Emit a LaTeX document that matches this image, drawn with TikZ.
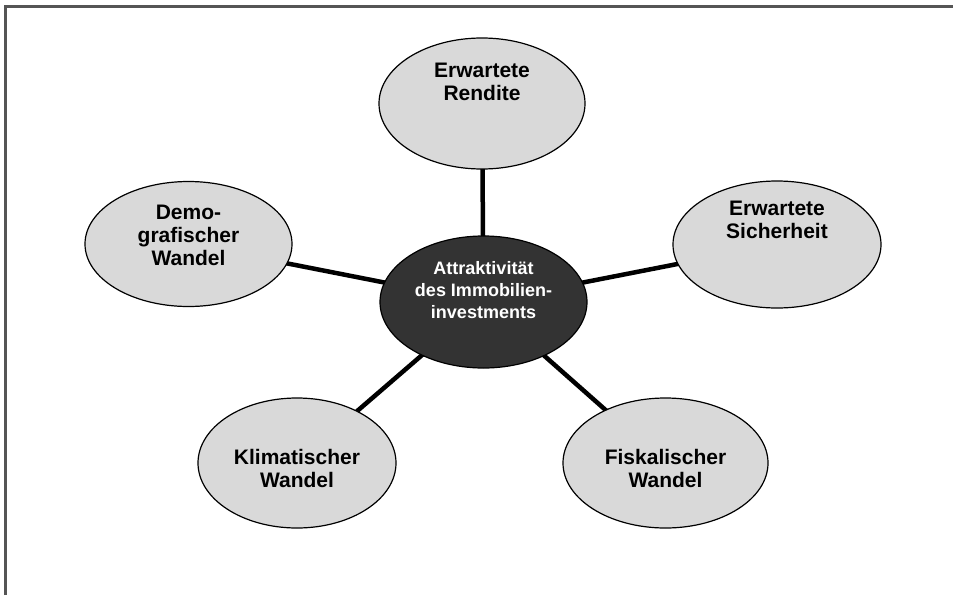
\documentclass[tikz,border=0pt]{standalone}
\usepackage{fontspec}
\setmainfont{Liberation Sans}
\usetikzlibrary{shapes.geometric,backgrounds}
\definecolor{outerfill}{HTML}{D9D9D9}
\definecolor{innerfill}{HTML}{333333}
\definecolor{framecol}{HTML}{555555}
\tikzset{
  outerell/.style={ellipse, draw=black, line width=1.2pt, fill=outerfill, inner sep=0pt},
  innerell/.style={ellipse, draw=black, line width=1.2pt, fill=innerfill, inner sep=0pt},
  lbl/.style={align=center, inner sep=0pt, font=\fontsize{21}{23}\selectfont\bfseries},
  clbl/.style={align=center, inner sep=0pt, text=white, font=\fontsize{18}{22}\selectfont\bfseries},
  conn/.style={line width=4.5pt, black},
  framel/.style={line width=2.2pt, framecol}
}
\begin{document}
\begin{tikzpicture}[x=1pt,y=-1pt]
\useasboundingbox (0,0) rectangle (953,595);
\draw[framel] (5.5,595) -- (5.5,6.5) -- (953,6.5);
% ellipses
\node[innerell, minimum width=207pt, minimum height=132pt] (c) at (483.5,302) {};
\node[outerell, minimum width=206pt, minimum height=131pt] (t) at (482,103.5) {};
\node[outerell, minimum width=208pt, minimum height=127pt] (r) at (777,244.5) {};
\node[outerell, minimum width=207pt, minimum height=125pt] (l) at (188.5,244) {};
\node[outerell, minimum width=198pt, minimum height=130pt] (k) at (297,463) {};
\node[outerell, minimum width=205pt, minimum height=130pt] (f) at (665.5,463) {};
% connectors
\begin{scope}[on background layer]
\draw[conn] (c.center) -- (t.center);
\draw[conn] (c.center) -- (r.center);
\draw[conn] (c.center) -- (l.center);
\draw[conn] (c.center) -- (k.center);
\draw[conn] (c.center) -- (f.center);
\end{scope}
% labels
\node[clbl] (ct) at (483.5,290) {Attraktivität\\des Immobilien-\\investments};
\node[lbl] (tt) at (482,81.5) {Erwartete\\Rendite};
\node[lbl] (rt) at (777,219.5) {Erwartete\\Sicherheit};
\node[lbl] (lt) at (188.5,235) {Demo-\\grafischer\\Wandel};
\node[lbl] (kt) at (297,468.5) {Klimatischer\\Wandel};
\node[lbl] (ft) at (665.5,468.5) {Fiskalischer\\Wandel};
\end{tikzpicture}
\end{document}
